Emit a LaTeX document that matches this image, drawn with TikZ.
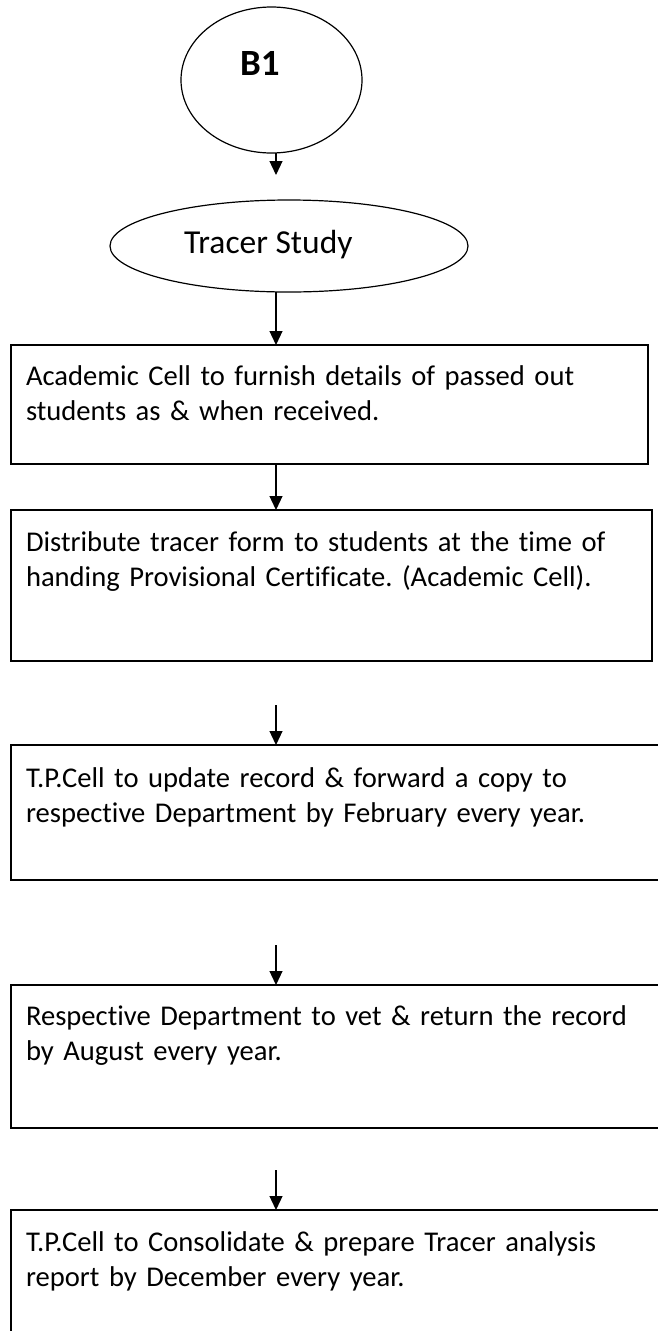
\documentclass[tikz,border=0pt]{standalone}
\usepackage{fontspec}
\setmainfont{Carlito}[Ligatures=NoCommon,RawFeature=-liga]
\usetikzlibrary{shapes.geometric,arrows.meta}
\frenchspacing
\begin{document}
\begin{tikzpicture}[x=1pt,y=-1pt,
  stepbox/.style={draw,line width=2pt,rectangle,inner sep=0pt,outer sep=0pt,
    anchor=north west,minimum height=151pt},
  boxtext/.style={anchor=base west,inner sep=0pt,outer sep=0pt,text width=615pt,
    align=left,font=\fontsize{28.6}{35}\selectfont},
  oval/.style={draw,ellipse,line width=1.2pt,inner sep=0pt,outer sep=0pt},
  flow/.style={-{Triangle[length=14pt,width=13pt]},line width=1.2pt}]
\clip (0,0) rectangle (658,1331);
\fill[white] (0,0) rectangle (658,1331);
\coordinate (spine) at (276,0);

% connector circle and start oval
\node[oval,minimum width=181pt,minimum height=146pt] (start) at (271.5,80) {};
\node[anchor=base west,inner sep=0pt,font=\fontsize{37}{44}\selectfont\bfseries] (starttext) at (240,75) {B1};
\node[oval,minimum width=358pt,minimum height=92pt] (tracer) at (289,246) {};
\node[anchor=base west,inner sep=0pt,font=\fontsize{33.5}{40}\selectfont] (tracertext) at (184,253) {Tracer Study};

% process boxes
\node[stepbox,minimum width=637pt,minimum height=119pt] (box1) at (11,345) {};
\node[stepbox,minimum width=641pt] (box2) at (11,510) {};
\node[stepbox,minimum width=660pt,minimum height=135pt] (box3) at (11,745) {};
\node[stepbox,minimum width=660pt,minimum height=143pt] (box4) at (11,985) {};
\node[stepbox,minimum width=660pt] (box5) at (11,1210) {};

\node[boxtext] (text1) at ([xshift=15pt,yshift=-40pt]box1.north west)
  {Academic Cell to furnish details of passed out\\students as \& when received.};
\node[boxtext] (text2) at ([xshift=15pt,yshift=-41pt]box2.north west)
  {Distribute tracer form to students at the time of\\handing Provisional Certificate. (Academic Cell).};
\node[boxtext] (text3) at ([xshift=15pt,yshift=-42pt]box3.north west)
  {T.P.Cell to update record \& forward a copy to\\respective Department by February every year.};
\node[boxtext] (text4) at ([xshift=15pt,yshift=-40pt]box4.north west)
  {Respective Department to vet \& return the record\\by August every year.};
\node[boxtext] (text5) at ([xshift=15pt,yshift=-41pt]box5.north west)
  {T.P.Cell to Consolidate \& prepare Tracer analysis\\report by December every year.};

% free ends of the detached connectors
\coordinate (a1e) at (276,175);
\coordinate (a4s) at (276,705);
\coordinate (a5s) at (276,945);
\coordinate (a6s) at (276,1170);

% connectors
\draw[flow] (start.south -| spine) -- (a1e);
\draw[flow] (tracer.south -| spine) -- (box1.north -| spine);
\draw[flow] (box1.south -| spine) -- (box2.north -| spine);
\draw[flow] (a4s) -- (box3.north -| spine);
\draw[flow] (a5s) -- (box4.north -| spine);
\draw[flow] (a6s) -- (box5.north -| spine);
\end{tikzpicture}
\end{document}
